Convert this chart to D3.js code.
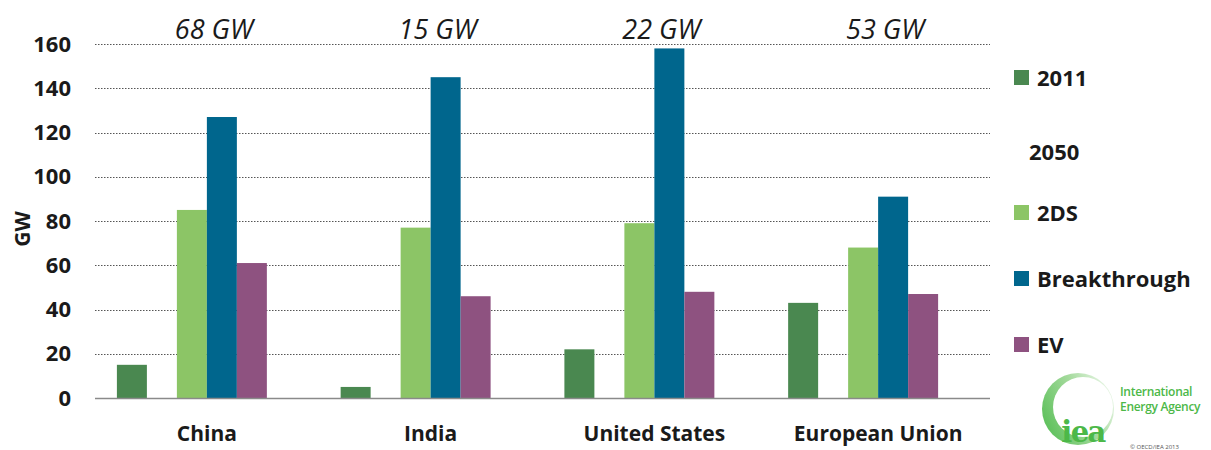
<!DOCTYPE html>
<html>
<head>
<meta charset="utf-8">
<script src="https://cdn.jsdelivr.net/npm/d3@7"></script>
<style>
  html, body { margin: 0; padding: 0; background: #fff; }
  svg { display: block; font-family: "Open Sans", sans-serif; }
</style>
</head>
<body>
<svg id="chart" width="1211" height="450"></svg>
<script>
// Regions and their 2011 capacity annotations
const regions = ["China", "India", "United States", "European Union"];
const capacityNotes = ["68 GW", "15 GW", "22 GW", "53 GW"];

// Series values (GW)
const values2011 = [15, 5, 22, 43];
const values2DS = [85, 77, 79, 68];
const valuesBreakthrough = [127, 145, 158, 91];
const valuesEV = [61, 46, 48, 47];

const yTicks = [0, 20, 40, 60, 80, 100, 120, 140, 160];

// Slot order inside each region group; "2050" is a header slot with no bar
const slots = ["2011", "2050", "2DS", "Breakthrough", "EV", "pad"];
const seriesList = [
  { key: "2011", values: values2011, color: "#4a8850" },
  { key: "2DS", values: values2DS, color: "#8cc566" },
  { key: "Breakthrough", values: valuesBreakthrough, color: "#00668d" },
  { key: "EV", values: valuesEV, color: "#8e5280" }
];

const svg = d3.select("#chart");
const plot = { left: 95, right: 990, top: 44, bottom: 398 };

const x0 = d3.scaleBand().domain(regions).range([plot.left, plot.right]).paddingInner(0).paddingOuter(0);
const x1 = d3.scaleBand().domain(slots).range([0, x0.bandwidth()]).paddingOuter(0.73).paddingInner(0);
const y = d3.scaleLinear().domain([0, 160]).range([plot.bottom, plot.top]);

// Dotted gridlines
svg.append("g")
  .selectAll("line")
  .data(yTicks.filter(d => d > 0))
  .join("line")
  .attr("x1", plot.left).attr("x2", plot.right)
  .attr("y1", d => Math.round(y(d)) + 0.5).attr("y2", d => Math.round(y(d)) + 0.5)
  .attr("stroke", "#555")
  .attr("stroke-width", 1)
  .attr("stroke-dasharray", "1.5,1.5");

// Y axis tick labels
const yAxis = d3.axisLeft(y).tickValues(yTicks).tickSize(0).tickPadding(0);
const yg = svg.append("g").attr("transform", `translate(71,0)`).call(yAxis);
yg.select(".domain").remove();
yg.selectAll("text")
  .attr("font-family", "'Open Sans', sans-serif")
  .attr("font-size", 22)
  .attr("font-weight", "bold")
  .attr("fill", "#1a1a1a");

// Y axis title
svg.append("text")
  .attr("transform", "translate(30,229) rotate(-90)")
  .attr("text-anchor", "middle")
  .attr("font-size", 21)
  .attr("font-weight", "bold")
  .attr("fill", "#1a1a1a")
  .text("GW");

// Bars
const groups = svg.append("g")
  .selectAll("g")
  .data(regions)
  .join("g")
  .attr("transform", d => `translate(${x0(d)},0)`);

groups.selectAll("rect")
  .data((r, i) => seriesList.map(s => ({ key: s.key, value: s.values[i], color: s.color })))
  .join("rect")
  .attr("x", d => x1(d.key))
  .attr("width", x1.bandwidth())
  .attr("y", d => y(d.value))
  .attr("height", d => y(0) - y(d.value))
  .attr("fill", d => d.color);

// Baseline
svg.append("line")
  .attr("x1", plot.left).attr("x2", plot.right)
  .attr("y1", plot.bottom + 0.5).attr("y2", plot.bottom + 0.5)
  .attr("stroke", "#8a8a8a")
  .attr("stroke-width", 1.5);

// Category labels
const xAxis = d3.axisBottom(x0).tickSize(0).tickPadding(0);
const xg = svg.append("g").attr("transform", `translate(0,${plot.bottom + 28})`).call(xAxis);
xg.select(".domain").remove();
xg.selectAll("text")
  .attr("font-family", "'Open Sans', sans-serif")
  .attr("font-size", 21)
  .attr("font-weight", "bold")
  .attr("fill", "#1a1a1a");

// Capacity annotations above each group
svg.append("g")
  .selectAll("text")
  .data(regions)
  .join("text")
  .attr("x", d => x0(d) + x0.bandwidth() / 2 + 7)
  .attr("y", 39)
  .attr("text-anchor", "middle")
  .attr("font-size", 27)
  .attr("font-style", "italic")
  .attr("fill", "#1a1a1a")
  .text((d, i) => capacityNotes[i]);

// Legend
const legendRows = [
  { label: "2011", color: "#4a8850", y: 78 },
  { label: "2050", color: null, y: 152 },
  { label: "2DS", color: "#8cc566", y: 213 },
  { label: "Breakthrough", color: "#00668d", y: 279 },
  { label: "EV", color: "#8e5280", y: 345 }
];
const legend = svg.append("g");
legendRows.forEach(r => {
  if (r.color) {
    legend.append("rect")
      .attr("x", 1014).attr("y", r.y - 8)
      .attr("width", 15).attr("height", 15)
      .attr("fill", r.color);
  }
  legend.append("text")
    .attr("x", r.color ? 1037 : 1029)
    .attr("y", r.y + 8)
    .attr("font-size", 22)
    .attr("font-weight", "bold")
    .attr("fill", "#1a1a1a")
    .text(r.label);
});

// IEA logo: fading ring with the "iea" wordmark
const defs = svg.append("defs");
const grad = defs.append("linearGradient").attr("id", "ring")
  .attr("x1", "0%").attr("y1", "70%").attr("x2", "100%").attr("y2", "20%");
grad.append("stop").attr("offset", "0%").attr("stop-color", "#5cc05a");
grad.append("stop").attr("offset", "55%").attr("stop-color", "#a4da9c");
grad.append("stop").attr("offset", "100%").attr("stop-color", "#f0f9ee");

const logo = svg.append("g").attr("transform", "translate(1078,409)");
logo.append("circle").attr("r", 36).attr("fill", "url(#ring)");
logo.append("circle").attr("cx", 5).attr("cy", -2).attr("r", 30).attr("fill", "#fff");
logo.append("text")
  .attr("x", 5).attr("y", 33)
  .attr("text-anchor", "middle")
  .attr("font-family", "'DejaVu Serif', serif")
  .attr("font-weight", "bold")
  .attr("font-size", 29)
  .attr("letter-spacing", -1.5)
  .attr("fill", "#4cb848")
  .text("iea");

const orgName = ["International", "Energy Agency"];
svg.append("g")
  .selectAll("text")
  .data(orgName)
  .join("text")
  .attr("x", 1120)
  .attr("y", (d, i) => 396 + i * 15)
  .attr("font-size", 12)
  .attr("font-weight", 600)
  .attr("letter-spacing", -0.3)
  .attr("fill", "#4cb848")
  .text(d => d);

svg.append("text").attr("x", 1130).attr("y", 449)
  .attr("font-size", 6).attr("fill", "#555").text("© OECD/IEA 2013");
</script>
</body>
</html>
